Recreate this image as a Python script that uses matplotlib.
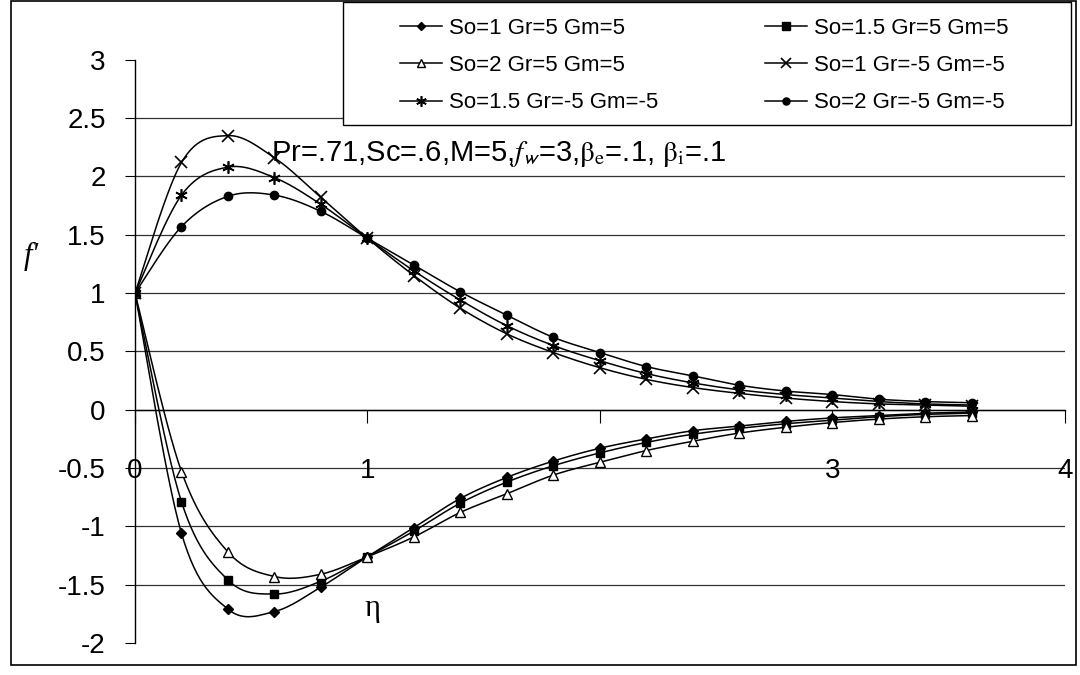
import numpy as np
import matplotlib.pyplot as plt
from matplotlib.patches import Rectangle

plt.rcParams['font.family'] = ['Liberation Sans', 'DejaVu Sans']
plt.rcParams['mathtext.fontset'] = 'stix'

eta = [0, 0.2, 0.4, 0.6, 0.8, 1.0, 1.2, 1.4, 1.6, 1.8, 2.0,
       2.2, 2.4, 2.6, 2.8, 3.0, 3.2, 3.4, 3.6]

# Gr=5, Gm=5
so1_pos = [1, -1.06, -1.71, -1.73, -1.52, -1.26, -1.01, -0.76, -0.58, -0.44,
           -0.33, -0.25, -0.18, -0.14, -0.10, -0.07, -0.05, -0.03, -0.02]
so15_pos = [1, -0.79, -1.46, -1.58, -1.47, -1.26, -1.04, -0.80, -0.62, -0.48,
            -0.37, -0.28, -0.21, -0.16, -0.12, -0.09, -0.06, -0.04, -0.03]
so2_pos = [1, -0.53, -1.22, -1.43, -1.41, -1.26, -1.09, -0.88, -0.72, -0.56,
           -0.45, -0.35, -0.27, -0.20, -0.15, -0.11, -0.08, -0.06, -0.05]

# Gr=-5, Gm=-5
so1_neg = [1, 2.12, 2.35, 2.16, 1.82, 1.47, 1.15, 0.87, 0.65, 0.49,
           0.36, 0.26, 0.19, 0.14, 0.10, 0.07, 0.05, 0.04, 0.03]
so15_neg = [1, 1.84, 2.08, 1.99, 1.76, 1.47, 1.19, 0.94, 0.72, 0.55,
            0.42, 0.31, 0.23, 0.17, 0.13, 0.10, 0.07, 0.05, 0.04]
so2_neg = [1, 1.57, 1.83, 1.84, 1.70, 1.47, 1.24, 1.01, 0.81, 0.62,
           0.49, 0.37, 0.29, 0.21, 0.16, 0.13, 0.09, 0.07, 0.06]


def smooth(x, y, n=16):
    # bezier pieces through the points, like a spreadsheet smoothed line
    p = np.column_stack([x, y]).astype(float)
    pts = [p[0]]
    for i in range(len(p) - 1):
        p0 = p[i - 1] if i > 0 else p[i]
        p3 = p[i + 2] if i + 2 < len(p) else p[i + 1]
        c1 = p[i] + (p[i + 1] - p0) / 6
        c2 = p[i + 1] - (p3 - p[i]) / 6
        t = np.linspace(0, 1, n)[1:, None]
        seg = ((1 - t) ** 3 * p[i] + 3 * (1 - t) ** 2 * t * c1
               + 3 * (1 - t) * t ** 2 * c2 + t ** 3 * p[i + 1])
        pts.extend(seg)
    pts = np.array(pts)
    return pts[:, 0], pts[:, 1]


fig = plt.figure(figsize=(10.8, 6.75), dpi=100)
ax = fig.add_axes([0.125, 0.0474, 0.861, 0.864])

series = [
    ("So=1 Gr=5 Gm=5", so1_pos, dict(marker='D', ms=5, mfc='black')),
    ("So=1.5 Gr=5 Gm=5", so15_pos, dict(marker='s', ms=6, mfc='black')),
    ("So=2 Gr=5 Gm=5", so2_pos, dict(marker='^', ms=7, mfc='white')),
    ("So=1 Gr=-5 Gm=-5", so1_neg, dict(marker='x', ms=8, mew=1.2)),
    ("So=1.5 Gr=-5 Gm=-5", so15_neg, dict(marker=(6, 2, 0), ms=9, mew=1.2)),
    ("So=2 Gr=-5 Gm=-5", so2_neg, dict(marker='o', ms=6, mfc='black')),
]

handles = {}
for label, vals, mk in series:
    xs, ys = smooth(eta, vals)
    ax.plot(xs, ys, color='black', lw=1.1, zorder=3)
    ax.plot(eta, vals, ls='none', color='black', mec='black', zorder=4, **mk)
    h, = ax.plot([], [], color='black', lw=1.1, mec='black', **mk)
    handles[label] = h

ax.set_xlim(0, 4)
ax.set_ylim(-2, 3)
for g in np.arange(-1.5, 2.6, 0.5):
    ax.axhline(g, color='#333333', lw=0.9, zorder=1)

ax.spines['top'].set_visible(False)
ax.spines['right'].set_visible(False)
ax.spines['bottom'].set_position(('data', 0))
ax.spines['left'].set_linewidth(1.0)
ax.spines['bottom'].set_linewidth(1.0)

ax.set_yticks(np.arange(-2, 3.01, 0.5))
ax.set_yticklabels(['-2', '-1.5', '-1', '-0.5', '0', '0.5', '1', '1.5', '2', '2.5', '3'])
ax.set_xticks([0, 1, 2, 3, 4])
ax.set_xticklabels(['0', '1', '', '3', '4'])
ax.tick_params(axis='y', direction='out', length=7, labelsize=20, pad=14)
ax.tick_params(axis='x', direction='out', length=9, labelsize=20, pad=26)

ax.text(-0.447, 1.31, "f'", fontsize=22, ha='center', va='center',
        family='Liberation Serif', style='italic')
ax.text(1.02, -1.70, 'η', fontsize=22, ha='center', va='center',
        family='Liberation Serif')
ax.text(0.585, 2.19,
        r'Pr=.71,Sc=.6,M=5,$f_{\mathsf{w}}$=3,$\mathrm{\beta_e}$=.1, $\mathrm{\beta_i}$=.1',
        fontsize=21, ha='left', va='center')

# legend box drawn separately so the entries can sit where they should
fig.patches.append(Rectangle((343 / 1080, 1 - 125 / 675), 728 / 1080, 123 / 675,
                             transform=fig.transFigure, facecolor='white',
                             edgecolor='black', lw=1.0, zorder=2))

order = ["So=1 Gr=5 Gm=5", "So=2 Gr=5 Gm=5", "So=1.5 Gr=-5 Gm=-5",
         "So=1.5 Gr=5 Gm=5", "So=1 Gr=-5 Gm=-5", "So=2 Gr=-5 Gm=-5"]
leg = fig.legend([handles[k] for k in order], order, ncol=2,
                 loc='upper left', bbox_to_anchor=(400 / 1080, 1 - 18 / 675),
                 fontsize=16, frameon=False, handlelength=1.9,
                 handletextpad=0.3, labelspacing=0.73, columnspacing=4.8,
                 borderpad=0, borderaxespad=0, markerscale=0.85)
leg.set_zorder(5)

fig.patches.append(Rectangle((0.010, 0.015), 0.986, 0.983, transform=fig.transFigure,
                             fill=False, edgecolor='black', lw=1.2, zorder=6))

fig.savefig('out.png', dpi=100)
